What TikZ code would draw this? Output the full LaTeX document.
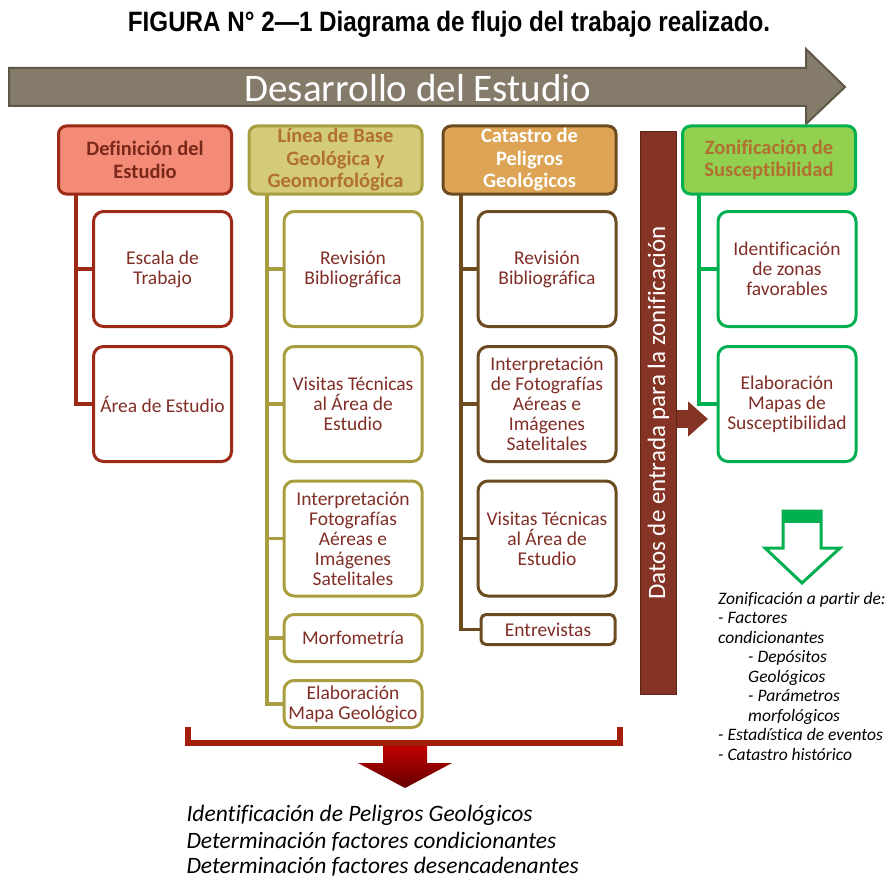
\documentclass[tikz,border=0pt]{standalone}
\usepackage{fontspec}
\setmainfont{Carlito}[Ligatures=NoCommon]
\newfontfamily\titlefont{Liberation Sans}
\usetikzlibrary{positioning,arrows.meta}

\definecolor{arrowgray}{RGB}{133,123,106}
\definecolor{arrowedge}{RGB}{95,88,73}
\definecolor{redfill}{RGB}{243,139,118}
\definecolor{redline}{RGB}{156,42,23}
\definecolor{redtext}{RGB}{123,40,28}
\definecolor{olivefill}{RGB}{211,203,121}
\definecolor{oliveline}{RGB}{168,158,64}
\definecolor{orangetext}{RGB}{178,112,48}
\definecolor{brownfill}{RGB}{220,164,84}
\definecolor{brownline}{RGB}{107,75,31}
\definecolor{greenfill}{RGB}{146,208,80}
\definecolor{greenline}{RGB}{0,176,80}
\definecolor{barbrown}{RGB}{132,51,36}
\definecolor{baredge}{RGB}{94,36,24}
\definecolor{itemtext}{RGB}{128,46,38}
\definecolor{bracketred}{RGB}{163,29,13}

\tikzset{
  hdbox/.style={draw, rounded corners=8pt, line width=3pt, minimum width=173pt,
    minimum height=68pt, align=center, inner sep=2pt,
    font=\bfseries\fontsize{20.5}{22.5}\selectfont},
  itembox/.style={draw, fill=white, rounded corners=10pt, line width=3pt,
    minimum width=138pt, minimum height=115pt, align=center, inner sep=3pt,
    text=itemtext, font=\fontsize{19.5}{20}\selectfont},
  trunk/.style={line width=3.5pt},
}

\begin{document}
\begin{tikzpicture}[x=1pt,y=-1pt]
	\useasboundingbox (0,0) rectangle (888,880);

	% titulo y flecha superior
	\node[anchor=base] (title) at (449,32) {\titlefont\bfseries\fontsize{28}{30}\selectfont\scalebox{0.865}[1]{FIGURA N° 2—1 Diagrama de flujo del trabajo realizado.}};
	\draw[fill=arrowgray, draw=arrowedge, line width=2pt, line join=miter]
		(9,68) -- (806,68) -- (806,49) -- (845,87) -- (806,124) -- (806,106) -- (9,106) -- cycle;
	\node[text=white, font=\fontsize{39}{42}\selectfont] (dev) at (418,88) {Desarrollo del Estudio};

	% columna 1
	\node[hdbox, fill=redfill, draw=redline, text=redtext] (hdA) at (145,160) {Definición del\\Estudio};
	\node[itembox, draw=redline] (A1) at (162.5,269) {Escala de\\Trabajo};
	\node[itembox, draw=redline] (A2) at (162.5,404) {Área de Estudio};
	\coordinate (tA) at (76,195);
	\draw[trunk, redline, line width=4pt] (tA) |- (A1.west);
	\draw[trunk, redline, line width=4pt] (tA) |- (A2.west);

	% columna 2
	\node[hdbox, fill=olivefill, draw=oliveline, text=orangetext] (hdB) at (335.5,160) {Línea de Base\\Geológica y\\Geomorfológica};
	\node[itembox, draw=oliveline] (B1) at (353,269) {Revisión\\Bibliográfica};
	\node[itembox, draw=oliveline] (B2) at (353,404) {Visitas Técnicas\\al Área de\\Estudio};
	\node[itembox, draw=oliveline] (B3) at (353,538.5) {Interpretación\\Fotografías\\Aéreas e\\Imágenes\\Satelitales};
	\node[itembox, draw=oliveline, minimum height=47pt] (B4) at (353,638) {Morfometría};
	\node[itembox, draw=oliveline, minimum height=47pt] (B5) at (353,704) {Elaboración\\Mapa Geológico};
	\coordinate (tB) at (267,195);
	\foreach \n in {B1,B2,B3,B4,B5}
		\draw[trunk, oliveline] (tB) |- (\n.west);

	% columna 3
	\node[hdbox, fill=brownfill, draw=brownline, text=white] (hdC) at (529.5,160) {Catastro de\\Peligros\\Geológicos};
	\node[itembox, draw=brownline] (C1) at (547,269) {Revisión\\Bibliográfica};
	\node[itembox, draw=brownline] (C2) at (547,404) {Interpretación\\de Fotografías\\Aéreas e\\Imágenes\\Satelitales};
	\node[itembox, draw=brownline] (C3) at (547,538.5) {Visitas Técnicas\\al Área de\\Estudio};
	\node[itembox, draw=brownline, minimum width=134pt, minimum height=30pt, rounded corners=5pt] (C4) at (548,629.5) {Entrevistas};
	\coordinate (tC) at (461,195);
	\foreach \n in {C1,C2,C3,C4}
		\draw[trunk, brownline] (tC) |- (\n.west);

	% barra de datos de entrada
	\node[draw=baredge, fill=barbrown, line width=1.5pt, minimum width=36pt, minimum height=563pt,
		inner sep=0pt] (bar) at (658.5,413) {};
	\node[rotate=90, text=white, font=\fontsize{25}{28}\selectfont] (bartxt) at (bar.center) {Datos de entrada para la zonificación};

	% columna 4
	\node[hdbox, fill=greenfill, draw=greenline, text=orangetext] (hdD) at (769,160) {Zonificación de\\Susceptibilidad};
	\node[itembox, draw=greenline] (D1) at (787,269) {Identificación\\de zonas\\favorables};
	\node[itembox, draw=greenline] (D2) at (787,404) {Elaboración\\Mapas de\\Susceptibilidad};
	\coordinate (tD) at (699,195);
	\draw[trunk, greenline] (tD) |- (D1.west);
	\draw[trunk, greenline] (tD) |- (D2.west);

	\coordinate (aout) at (708,419);
	\draw[barbrown, line width=18pt, -{Triangle[length=20pt,width=34pt]}] (bar.east |- aout) -- (aout);

	% flecha verde y texto
	\draw[greenline, line width=3pt, fill=white, line join=miter]
		(783,511) -- (821,511) -- (821,548) -- (840,548) -- (802,583) -- (765,548) -- (783,548) -- cycle;
	\fill[greenline] (783,511) rectangle (821,523);
	\node[anchor=north west, align=left, inner sep=0pt, font=\itshape\fontsize{17.5}{19.5}\selectfont] (zon) at (718,592)
		{Zonificación a partir de:\\- Factores\\condicionantes\\
		\hspace*{30pt}- Depósitos\\\hspace*{30pt}Geológicos\\\hspace*{30pt}- Parámetros\\
		\hspace*{30pt}morfológicos\\- Estadística de eventos\\- Catastro histórico};

	% llave inferior y flecha roja
	\draw[bracketred, line width=6pt] (188,727) |- (620,743) -- (620,727);
	\shade[top color=red!75!black, bottom color=red!40!black]
		(383,746) -- (427,746) -- (427,763) -- (452,763) -- (405,788) -- (358,763) -- (383,763) -- cycle;

	\node[anchor=west, font=\itshape\fontsize{23.5}{26}\selectfont] (r1) at (183,815) {Identificación de Peligros Geológicos};
	\node[anchor=west, font=\itshape\fontsize{23.5}{26}\selectfont] (r2) at (183,842) {Determinación factores condicionantes};
	\node[anchor=west, font=\itshape\fontsize{23.5}{26}\selectfont] (r3) at (183,867) {Determinación factores desencadenantes};
\end{tikzpicture}
\end{document}
